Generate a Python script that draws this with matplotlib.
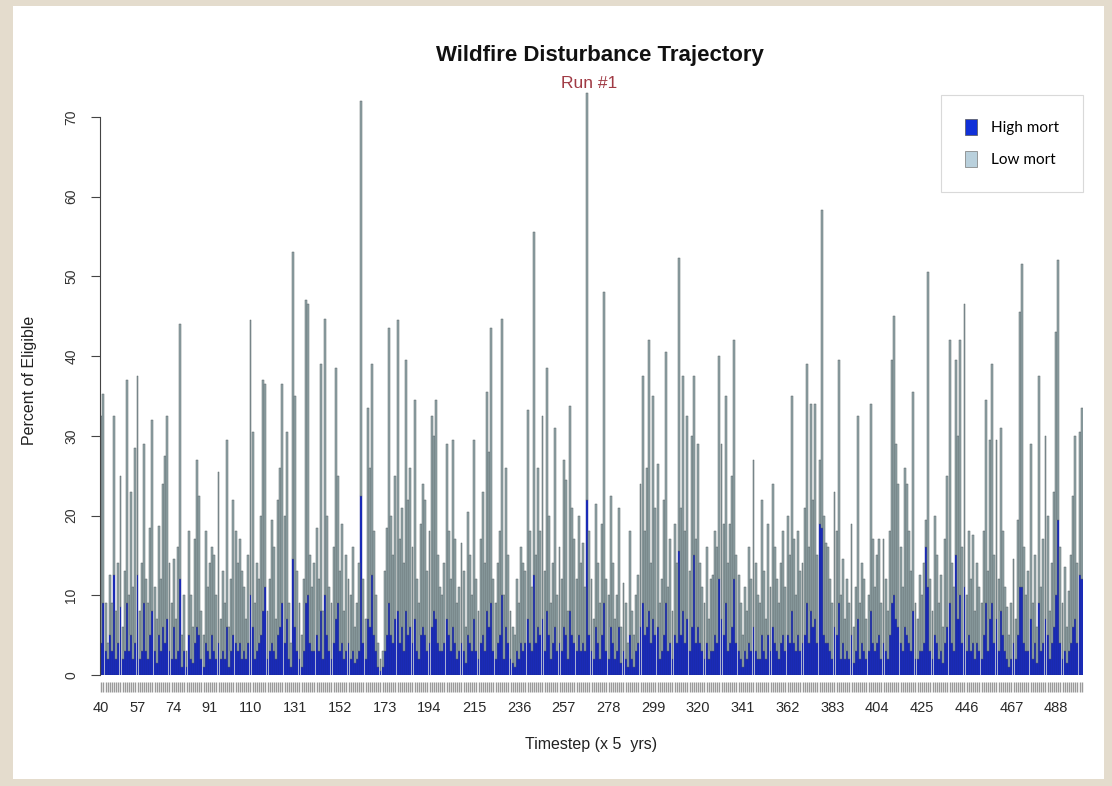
import numpy as np
import matplotlib
matplotlib.use("Agg")
import matplotlib.pyplot as plt
from matplotlib.patches import Rectangle, Patch

plt.rcParams["font.family"] = ["Liberation Sans", "DejaVu Sans"]

# timesteps 40..500, one bar each
timesteps = list(range(40, 501))

# total burned (% of eligible) per timestep
total_pct = [
    32.5, 35.3, 9, 4, 12.5, 9, 32.5, 8, 14, 25, 6, 13, 37, 10, 23, 11, 28.5, 37.5, 8, 14,
    29, 12, 9, 18.5, 32, 11, 7, 18.7, 12, 24, 27.5, 32.5, 14, 9, 14.5, 7, 16, 44, 5, 10,
    3, 18, 10, 6, 17, 27, 22.5, 8, 5, 18, 11, 14, 16, 15, 10, 25.5, 7, 13, 9, 29.5,
    6, 12, 22, 18, 14, 17, 13, 11, 7, 15, 44.5, 30.5, 9, 14, 12, 20, 37, 36.5, 8, 12,
    19.5, 16, 7, 22, 26, 36.5, 20, 30.5, 9, 4, 53, 35, 13, 9, 5, 12, 47, 46.5, 15, 11,
    14, 18.5, 12, 39, 8, 44.7, 20, 11, 9, 16, 38.5, 25, 13, 19, 8, 15, 12, 10, 16, 6,
    9, 14, 72, 12, 7, 33.5, 26, 39, 18, 10, 4, 2, 3, 13, 18.5, 43.5, 20, 15, 25, 44.5,
    17, 21, 14, 39.5, 22, 26, 16, 34.5, 12, 9, 19, 24, 22, 13, 18, 32.5, 30, 34.5, 15, 11,
    10, 14, 29, 18, 12, 29.5, 17, 9, 11, 16.5, 13, 6, 20.5, 15, 10, 29.5, 12, 8, 17, 23,
    14, 35.5, 28, 43.5, 12, 9, 14, 18, 44.7, 10, 26, 15, 8, 6, 5, 12, 9, 16, 14, 13,
    33.2, 18, 11, 55.5, 15, 26, 18, 32.5, 13, 38.5, 20, 9, 14, 31, 10, 16, 12, 27, 24.5, 8,
    33.8, 21, 17, 12, 20, 14, 16.5, 11, 73, 18, 12, 7, 21.5, 14, 9, 19, 48, 12, 10, 22.5,
    14, 7, 10, 21, 6, 11.5, 9, 4, 18, 8, 5, 10, 12.5, 24, 37.5, 18, 26, 42, 14, 35,
    21, 26.5, 9, 12, 22, 40.5, 11, 17, 8, 19, 14, 52.3, 21, 37.5, 18, 32.5, 13, 30, 37.5, 17,
    29, 14, 11, 9, 16, 7, 12, 12.5, 18, 16, 40, 29, 19, 35, 14, 19, 25, 42, 15, 12.5,
    9, 5, 11, 8, 16, 12, 27, 14, 10, 9, 22, 13, 7, 19, 11, 24, 16, 12, 9, 14,
    18, 11, 20, 15, 35, 17, 10, 18, 13, 14, 21, 39, 16, 34, 22, 34, 15, 27, 58.3, 20,
    16.5, 16, 12, 9, 23, 18, 39.5, 10, 14.5, 7, 12, 9, 19, 6, 11, 32.5, 9, 14, 12, 7,
    10, 34, 17, 11, 15, 17, 9, 17, 12, 8, 18, 39.5, 45, 29, 24, 16, 11, 26, 24, 18,
    13, 35.5, 9, 7, 12.5, 10, 14, 19.5, 50.5, 12, 8, 20, 15, 9, 12.5, 6, 17, 25, 42, 14,
    11, 39.5, 30, 42, 16, 46.5, 10, 18, 12, 17.5, 8, 14, 11, 9, 18, 34.5, 13, 29.5, 39, 15,
    29.5, 12, 31, 18, 11, 8.5, 5, 9, 14.5, 7, 19.5, 45.5, 51.5, 16, 10, 13, 29, 9, 15, 6,
    37.5, 11, 17, 30, 20, 8, 14, 23, 43, 52, 16, 9, 13.5, 6, 10.5, 15, 22.5, 30, 14, 30.5, 33.5,
]

# high-mortality share of the same total
high_mort = [
    4, 9, 3, 2, 5, 3, 12.5, 2, 4, 8.5, 2, 3, 9, 3, 5, 2, 4, 12.5, 2, 3,
    9, 3, 2, 5, 8, 3, 1.5, 5, 3, 6, 4, 7, 3, 2, 6, 2, 3, 12, 1, 3,
    1, 5, 2, 1.5, 4, 6, 5, 2, 1, 4, 3, 2, 5, 3, 2, 4, 2, 3, 2, 6,
    1, 3, 5, 4, 3, 4, 2, 3, 2, 4, 10, 6, 2, 3, 4, 5, 8, 11, 2, 3,
    4, 3, 2, 5, 6, 9, 4, 7, 2, 1, 14.5, 6, 3, 2, 1, 3, 9, 10, 4, 3,
    3, 5, 3, 8, 2, 10, 5, 3, 2, 4, 7, 9, 3, 4, 2, 3, 4, 2, 3, 1.5,
    2, 3, 22.5, 4, 2, 7, 6, 12.5, 5, 3, 1, 0.5, 1, 3, 5, 9, 5, 4, 7, 8,
    4, 6, 3, 8, 5, 6, 4, 7, 3, 2, 5, 6, 5, 3, 4, 6, 8, 7, 4, 3,
    3, 4, 7, 5, 3, 6, 4, 2, 3, 4, 3, 1.5, 5, 4, 3, 7, 3, 2, 4, 5,
    3, 8, 6, 9, 3, 2, 4, 5, 10, 2, 6, 4, 2, 1.5, 1, 3, 2, 4, 3, 4,
    7, 4, 3, 12.5, 4, 6, 5, 7, 3, 8, 5, 2, 4, 6, 3, 4, 3, 6, 5, 2,
    8, 5, 4, 3, 5, 3, 4, 3, 22, 5, 3, 2, 6, 4, 2, 5, 9, 3, 2, 6,
    4, 2, 3, 6, 1.5, 3, 2, 1, 5, 2, 1, 3, 4, 6, 9, 5, 6, 8, 4, 7,
    5, 6, 2, 3, 5, 9, 3, 4, 2, 5, 4, 15.5, 5, 8, 4, 7, 3, 6, 15, 4,
    6, 4, 3, 2, 4, 2, 3, 3, 5, 4, 12, 7, 5, 9, 3, 4, 6, 12, 4, 3,
    2, 1, 3, 2, 4, 3, 6, 3, 2, 2, 5, 3, 2, 5, 3, 6, 4, 3, 2, 4,
    5, 3, 5, 4, 8, 4, 3, 5, 3, 4, 5, 9, 4, 8, 6, 7, 4, 19, 18.5, 5,
    4, 4, 3, 2, 6, 5, 9, 2, 4, 2, 3, 2, 5, 1.5, 3, 7, 2, 4, 3, 2,
    3, 8, 4, 3, 4, 5, 2, 4, 3, 2, 5, 9, 10, 7, 6, 4, 3, 6, 5, 4,
    3, 8, 2, 2, 3, 3, 4, 16, 11, 3, 2, 5, 4, 2, 3, 1.5, 4, 6, 9, 4,
    3, 15, 7, 10, 4, 11, 3, 5, 3, 4, 2, 4, 3, 2, 5, 9, 3, 7, 9, 4,
    7, 3, 8, 5, 3, 2, 1, 2, 4, 2, 5, 11, 11, 4, 3, 3, 7, 2, 4, 1.5,
    9, 3, 4, 7, 5, 2, 4, 6, 10, 19.5, 4, 2, 3, 1.5, 3, 4, 6, 7, 4, 12.5, 12,
]

tick_labels = [40, 57, 74, 91, 110, 131, 152, 173, 194, 215, 236, 257,
               278, 299, 320, 341, 362, 383, 404, 425, 446, 467, 488]

HIGH_COL = "#1a2cc4"
LOW_COL = "#94a7ab"
EDGE_COL = "#5a6365"

assert len(total_pct) == len(timesteps) == len(high_mort)

high = np.array(high_mort, dtype=float)
low = np.clip(np.array(total_pct, dtype=float) - high, 0, None)
x = np.arange(len(timesteps))

fig = plt.figure(figsize=(11.12, 7.86), dpi=100, facecolor="#e4dccd")
# white card over the beige backdrop
fig.patches.append(Rectangle((13 / 1112, 7 / 786), 1091 / 1112, 773 / 786,
                             transform=fig.transFigure, facecolor="white",
                             edgecolor="none", zorder=-10))

ax = fig.add_axes([100 / 1112, 111 / 786, 983 / 1112, 590 / 786])
ax.set_facecolor("none")

ax.bar(x, high, width=0.9, color=HIGH_COL, edgecolor="#1c2a8a", linewidth=0.3)
ax.bar(x, low, width=0.9, bottom=high, color=LOW_COL, edgecolor=EDGE_COL,
       linewidth=0.35)

ax.set_xlim(-0.6, len(x) - 0.4)
ax.set_ylim(0, 74)

# y axis, R style
for s in ["top", "right"]:
    ax.spines[s].set_visible(False)
ax.spines["left"].set_bounds(0, 70)
ax.spines["left"].set_color("#444444")
ax.spines["left"].set_linewidth(0.8)
ax.set_yticks(range(0, 71, 10))
ax.set_yticklabels([str(v) for v in range(0, 71, 10)], rotation=90,
                   va="center", fontsize=10, color="#333333")
ax.tick_params(axis="y", length=6.5, width=0.8, color="#444444", pad=9)

# one tick per bar, labels only where they fit
ax.spines["bottom"].set_position(("outward", 5))
ax.spines["bottom"].set_visible(False)
ax.set_xticks(x)
lab = set(tick_labels)
ax.set_xticklabels([str(t) if t in lab else "" for t in timesteps],
                   fontsize=10.5, color="#2a2a2a")
ax.tick_params(axis="x", length=7.5, width=1.0, color="#9a9a9a", pad=6)

ax.set_xlabel("Timestep (x 5  yrs)", fontsize=11.5, color="#222222", labelpad=16)
ax.set_ylabel("Percent of Eligible", fontsize=11.5, color="#222222", labelpad=20)

fig.text(600 / 1112, 1 - 55 / 786, "Wildfire Disturbance Trajectory",
         ha="center", va="center", fontsize=16, fontweight="bold",
         color="#111111")
fig.text(589 / 1112, 1 - 84 / 786, "Run #1", ha="center", va="center",
         fontsize=12.5, color="#a03a44")

handles = [Patch(facecolor="#1030d8", edgecolor="#555555", linewidth=0.5),
           Patch(facecolor="#b9d0dc", edgecolor="#777777", linewidth=0.5)]
leg = fig.legend(handles, ["High mort", "Low mort"],
                 loc="upper right", bbox_to_anchor=(1083 / 1112, 1 - 95 / 786),
                 prop={"family": "Lato", "size": 11}, frameon=True,
                 fancybox=False, handlelength=0.75, handleheight=1.2,
                 handletextpad=0.9, borderpad=1.6, labelspacing=1.05,
                 borderaxespad=0)
leg.get_frame().set_edgecolor("#d0d0d0")
leg.get_frame().set_linewidth(0.8)

fig.savefig("out.png", dpi=100, facecolor=fig.get_facecolor())
